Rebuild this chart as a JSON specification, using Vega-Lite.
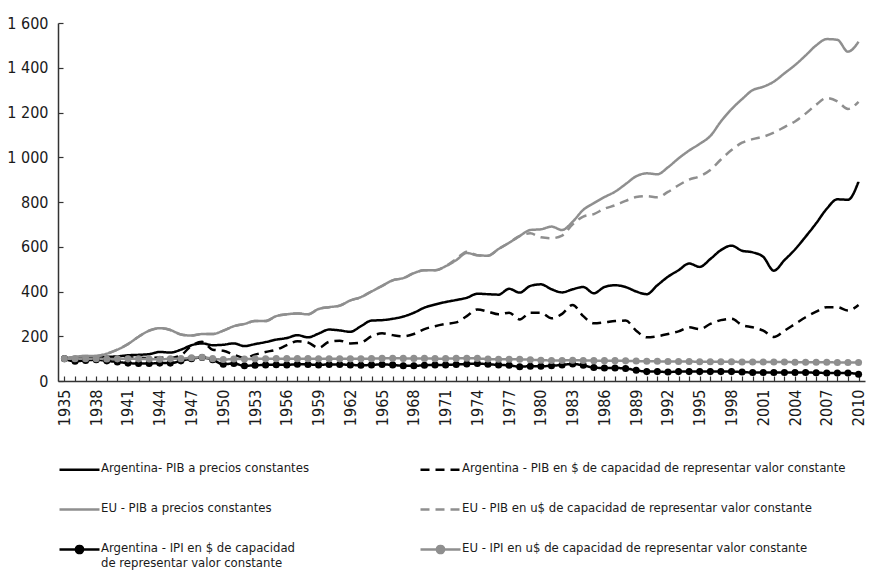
{
  "$schema": "https://vega.github.io/schema/vega-lite/v6.json",
  "autosize": "none",
  "padding": {"left": 58, "top": 23, "right": 4, "bottom": 204},
  "width": 807,
  "height": 358,
  "background": "white",
  "config": {
    "font": "DejaVu Sans Condensed, Roboto",
    "view": {"stroke": null},
    "axis": {"labelFont": "DejaVu Sans Condensed, Roboto", "labelColor": "#1a1a1a", "domainColor": "#333", "tickColor": "#333", "domainWidth": 1.5, "tickWidth": 1.2, "grid": false},
    "legend": {"labelFont": "DejaVu Sans Condensed, Roboto"}
  },
  "data": {"values": [
    {"year":1935,"A":100,"B":100,"C":100,"D":100,"E":100,"F":100},
    {"year":1936,"A":105,"B":102,"C":108,"D":108,"E":88,"F":100},
    {"year":1937,"A":108,"B":104,"C":112,"D":112,"E":92,"F":100},
    {"year":1938,"A":105,"B":102,"C":112,"D":112,"E":95,"F":100},
    {"year":1939,"A":108,"B":103,"C":122,"D":122,"E":90,"F":98},
    {"year":1940,"A":110,"B":104,"C":140,"D":140,"E":85,"F":99},
    {"year":1941,"A":115,"B":106,"C":165,"D":165,"E":80,"F":99},
    {"year":1942,"A":117,"B":104,"C":198,"D":198,"E":78,"F":99},
    {"year":1943,"A":120,"B":103,"C":225,"D":225,"E":78,"F":98},
    {"year":1944,"A":130,"B":105,"C":236,"D":236,"E":80,"F":97},
    {"year":1945,"A":127,"B":103,"C":228,"D":228,"E":80,"F":99},
    {"year":1946,"A":140,"B":115,"C":208,"D":208,"E":90,"F":100},
    {"year":1947,"A":160,"B":158,"C":203,"D":203,"E":100,"F":104},
    {"year":1948,"A":168,"B":175,"C":210,"D":210,"E":105,"F":106},
    {"year":1949,"A":160,"B":140,"C":210,"D":210,"E":95,"F":100},
    {"year":1950,"A":162,"B":135,"C":225,"D":225,"E":75,"F":96},
    {"year":1951,"A":168,"B":118,"C":245,"D":245,"E":78,"F":98},
    {"year":1952,"A":156,"B":103,"C":255,"D":255,"E":68,"F":98},
    {"year":1953,"A":165,"B":118,"C":268,"D":268,"E":70,"F":99},
    {"year":1954,"A":174,"B":130,"C":268,"D":268,"E":72,"F":99},
    {"year":1955,"A":185,"B":140,"C":290,"D":290,"E":73,"F":100},
    {"year":1956,"A":192,"B":160,"C":298,"D":298,"E":72,"F":100},
    {"year":1957,"A":205,"B":178,"C":302,"D":302,"E":75,"F":100},
    {"year":1958,"A":195,"B":172,"C":298,"D":298,"E":74,"F":100},
    {"year":1959,"A":212,"B":148,"C":322,"D":322,"E":72,"F":99},
    {"year":1960,"A":230,"B":175,"C":330,"D":330,"E":74,"F":99},
    {"year":1961,"A":226,"B":180,"C":337,"D":337,"E":74,"F":99},
    {"year":1962,"A":220,"B":168,"C":360,"D":360,"E":72,"F":99},
    {"year":1963,"A":245,"B":172,"C":375,"D":375,"E":70,"F":99},
    {"year":1964,"A":270,"B":200,"C":400,"D":400,"E":72,"F":100},
    {"year":1965,"A":272,"B":213,"C":425,"D":425,"E":74,"F":101},
    {"year":1966,"A":278,"B":205,"C":450,"D":450,"E":72,"F":102},
    {"year":1967,"A":288,"B":200,"C":460,"D":460,"E":68,"F":101},
    {"year":1968,"A":305,"B":210,"C":482,"D":482,"E":68,"F":101},
    {"year":1969,"A":328,"B":232,"C":495,"D":495,"E":70,"F":101},
    {"year":1970,"A":342,"B":245,"C":495,"D":495,"E":72,"F":100},
    {"year":1971,"A":353,"B":255,"C":513,"D":513,"E":72,"F":100},
    {"year":1972,"A":362,"B":262,"C":540,"D":545,"E":74,"F":101},
    {"year":1973,"A":372,"B":290,"C":572,"D":578,"E":76,"F":102},
    {"year":1974,"A":390,"B":320,"C":562,"D":562,"E":78,"F":101},
    {"year":1975,"A":388,"B":310,"C":560,"D":560,"E":75,"F":98},
    {"year":1976,"A":386,"B":298,"C":590,"D":590,"E":72,"F":97},
    {"year":1977,"A":412,"B":305,"C":618,"D":618,"E":70,"F":97},
    {"year":1978,"A":395,"B":275,"C":648,"D":648,"E":64,"F":97},
    {"year":1979,"A":425,"B":305,"C":675,"D":660,"E":66,"F":95},
    {"year":1980,"A":432,"B":305,"C":678,"D":642,"E":66,"F":93},
    {"year":1981,"A":410,"B":280,"C":690,"D":638,"E":68,"F":92},
    {"year":1982,"A":396,"B":300,"C":675,"D":650,"E":72,"F":92},
    {"year":1983,"A":410,"B":340,"C":712,"D":700,"E":76,"F":93},
    {"year":1984,"A":420,"B":290,"C":765,"D":735,"E":70,"F":92},
    {"year":1985,"A":392,"B":258,"C":795,"D":746,"E":60,"F":91},
    {"year":1986,"A":420,"B":262,"C":822,"D":770,"E":58,"F":91},
    {"year":1987,"A":428,"B":268,"C":846,"D":785,"E":58,"F":91},
    {"year":1988,"A":420,"B":270,"C":880,"D":805,"E":56,"F":90},
    {"year":1989,"A":400,"B":225,"C":915,"D":822,"E":48,"F":89},
    {"year":1990,"A":388,"B":195,"C":928,"D":826,"E":42,"F":88},
    {"year":1991,"A":428,"B":200,"C":924,"D":821,"E":42,"F":88},
    {"year":1992,"A":466,"B":210,"C":955,"D":845,"E":40,"F":87},
    {"year":1993,"A":495,"B":222,"C":995,"D":875,"E":42,"F":87},
    {"year":1994,"A":525,"B":240,"C":1030,"D":900,"E":42,"F":87},
    {"year":1995,"A":510,"B":232,"C":1060,"D":915,"E":42,"F":86},
    {"year":1996,"A":545,"B":255,"C":1095,"D":943,"E":42,"F":86},
    {"year":1997,"A":585,"B":272,"C":1160,"D":990,"E":42,"F":86},
    {"year":1998,"A":605,"B":278,"C":1215,"D":1032,"E":42,"F":86},
    {"year":1999,"A":582,"B":250,"C":1260,"D":1065,"E":40,"F":85},
    {"year":2000,"A":575,"B":240,"C":1300,"D":1081,"E":38,"F":85},
    {"year":2001,"A":555,"B":225,"C":1315,"D":1092,"E":38,"F":85},
    {"year":2002,"A":493,"B":197,"C":1338,"D":1110,"E":38,"F":85},
    {"year":2003,"A":540,"B":225,"C":1375,"D":1135,"E":38,"F":85},
    {"year":2004,"A":588,"B":255,"C":1412,"D":1160,"E":38,"F":84},
    {"year":2005,"A":645,"B":285,"C":1455,"D":1195,"E":38,"F":84},
    {"year":2006,"A":705,"B":310,"C":1500,"D":1235,"E":37,"F":84},
    {"year":2007,"A":770,"B":330,"C":1528,"D":1265,"E":36,"F":84},
    {"year":2008,"A":812,"B":330,"C":1525,"D":1250,"E":36,"F":83},
    {"year":2009,"A":810,"B":315,"C":1472,"D":1216,"E":36,"F":83},
    {"year":2010,"A":891,"B":340,"C":1516,"D":1248,"E":30,"F":83}
  ]},
  "transform": [{"fold": ["A","B","C","D","E","F"], "as": ["serie","valor"]}],
  "encoding": {
    "x": {"field": "year", "type": "ordinal", "scale": {"type": "point", "padding": 0.61},
      "axis": {"title": null, "labelAngle": -90, "labelFontSize": 16, "tickSize": -5, "labelPadding": 13,
        "labelExpr": "(datum.value - 1935) % 3 == 0 ? datum.label : ''"}},
    "y": {"field": "valor", "type": "quantitative", "scale": {"domain": [0, 1600], "nice": false},
      "axis": {"title": null, "values": [0,200,400,600,800,1000,1200,1400,1600], "labelFontSize": 16, "tickSize": -5, "labelPadding": 15,
        "labelExpr": "replace(format(datum.value, ','), ',', ' ')"}}
  },
  "layer": [
    {
      "mark": {"type": "line", "interpolate": "monotone", "strokeWidth": 2.5},
      "encoding": {
        "color": {"field": "serie", "type": "nominal",
          "scale": {"domain": ["A","B","C","D","E","F"], "range": ["#000000","#000000","#8f8f8f","#8f8f8f","#000000","#8f8f8f"]},
          "legend": {"title": null, "orient": "none", "legendX": 0, "legendY": 425, "columns": 2, "direction": "horizontal",
            "symbolSize": 1600, "symbolStrokeWidth": 2.5, "labelFontSize": 13, "labelLimit": 600, "labelOffset": 0,
            "columnPadding": 106, "rowPadding": 13, "labelColor": "#1a1a1a",
            "labelExpr": "datum.value=='A' ? 'Argentina- PIB a precios constantes' : datum.value=='B' ? 'Argentina - PIB en $ de capacidad de representar valor constante' : datum.value=='C' ? 'EU - PIB a precios constantes' : datum.value=='D' ? 'EU - PIB en u$ de capacidad de representar valor constante' : datum.value=='E' ? ['Argentina - IPI en $ de capacidad', 'de representar valor constante'] : 'EU - IPI en u$ de capacidad de representar valor constante'",
            "encode": {
              "symbols": {"update": {
                "shape": {"signal": "(datum.value=='E' || datum.value=='F') ? 'M-1,0H1M-0.18,0A0.18,0.18,0,1,1,0.18,0A0.18,0.18,0,1,1,-0.18,0Z' : 'stroke'"},
                "fill": {"signal": "datum.value=='E' ? '#000000' : datum.value=='F' ? '#8f8f8f' : 'transparent'"}
              }},
              "labels": {"update": {"baseline": {"value": "top"}, "dy": {"value": -8}}}
            }}},
        "strokeDash": {"field": "serie", "type": "nominal",
          "scale": {"domain": ["A","B","C","D","E","F"], "range": [[1,0],[9,6],[1,0],[9,6],[1,0],[1,0]]},
          "legend": {"title": null}}
      }
    },
    {
      "transform": [{"filter": "datum.serie == 'E' || datum.serie == 'F'"}],
      "mark": {"type": "point", "filled": true, "size": 50, "opacity": 1, "strokeWidth": 0},
      "encoding": {
        "fill": {"field": "serie", "type": "nominal", "scale": {"domain": ["E","F"], "range": ["#000000","#8f8f8f"]}, "legend": null}
      }
    }
  ]
}
